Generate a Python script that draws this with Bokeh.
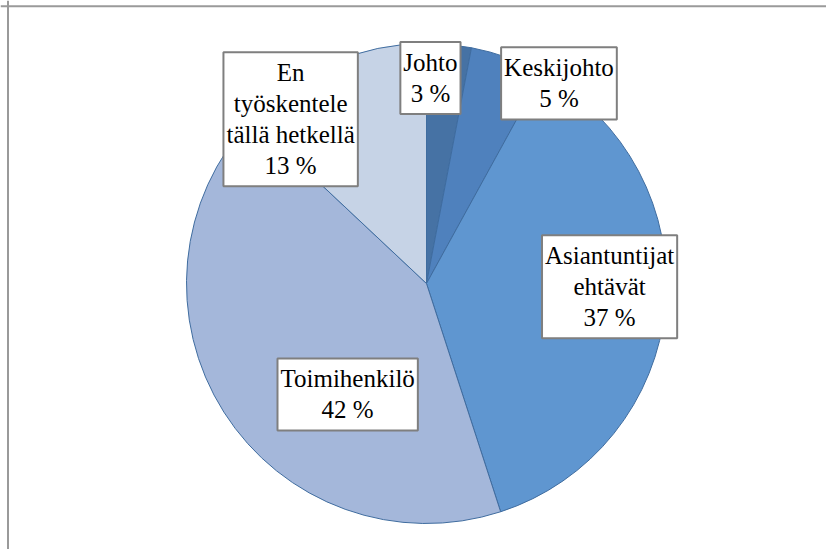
import math
from bokeh.plotting import figure
from bokeh.models import ColumnDataSource, Range1d, Span
from bokeh.embed import file_html
from bokeh.resources import INLINE
from bokeh.core.properties import value

# ---- data ----
categories = ["Johto", "Keskijohto", "Asiantuntijat\nehtävät", "Toimihenkilö",
              "En\ntyöskentele\ntällä hetkellä"]
shares = [3, 5, 37, 42, 13]
colors = ["#4672a4", "#4f81bd", "#5f96d0", "#a4b7da", "#c6d3e6"]

# ---- label layout (radial factor, angular nudge in degrees) ----
label_r = [0.856, 1.0, 0.763, 0.567, 0.888]
label_nudge = [-4.3, 13.7, -4.4, -22.2, -16.2]

W, H = 826, 549
CX, CY, R = 426, 266, 240

total = float(sum(shares))
starts, ends, lx, ly, texts = [], [], [], [], []
cum = 0.0
for cat, s, f, nd in zip(categories, shares, label_r, label_nudge):
    a0 = cum / total
    a1 = (cum + s) / total
    starts.append(math.pi / 2 - 2 * math.pi * a0)
    ends.append(math.pi / 2 - 2 * math.pi * a1)
    mid = math.radians((a0 + a1) / 2 * 360 + nd)
    lx.append(CX + R * f * math.sin(mid))
    ly.append(CY + R * f * math.cos(mid))
    texts.append(f"{cat}\n{s} %")
    cum += s

src = ColumnDataSource(dict(start=starts, end=ends, color=colors))
lsrc = ColumnDataSource(dict(x=lx, y=ly, text=texts))

p = figure(width=W, height=H, x_range=Range1d(0, W), y_range=Range1d(0, H),
           output_backend="svg", toolbar_location=None, min_border=0)
p.axis.visible = False
p.grid.visible = False
p.outline_line_color = None
p.background_fill_color = "white"
p.border_fill_color = "white"

# chart-area frame (left and top edges visible)
p.add_layout(Span(location=7.5, dimension="height", line_color="#9a9a9a", line_width=2))
p.add_layout(Span(location=H - 5.8, dimension="width", line_color="#9a9a9a", line_width=2))

p.wedge(x=CX, y=CY, radius=R, start_angle="start", end_angle="end",
        direction="clock", fill_color="color", line_color="#3f6c9f",
        line_width=1, source=src)

p.text(x="x", y="y", text="text", source=lsrc, text_align="center",
       text_baseline="middle", text_font=value("Liberation Serif"),
       text_font_size="25px", text_color="black", text_line_height=1.15,
       background_fill_color="white", border_line_color="#7f7f7f",
       border_line_width=2, padding=(3, 7))

open("out.html", "w").write(file_html(p, INLINE))
